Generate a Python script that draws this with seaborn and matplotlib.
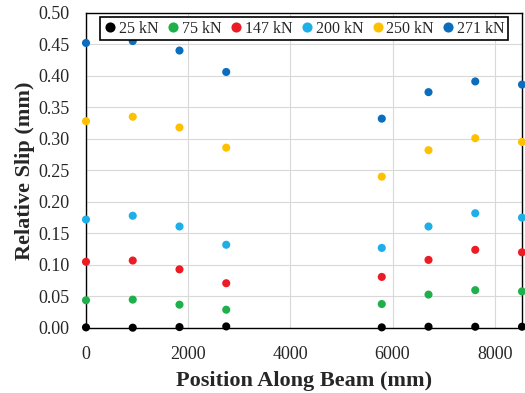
import matplotlib
matplotlib.use("Agg")
import matplotlib.pyplot as plt
from matplotlib.ticker import MultipleLocator, FormatStrFormatter
import seaborn as sns
import pandas as pd

positions = [0, 915, 1830, 2745, 5790, 6705, 7620, 8535]
loads = ["25 kN", "75 kN", "147 kN", "200 kN", "250 kN", "271 kN"]
slip_25 = [0.001, 0.0005, 0.0015, 0.0025, 0.001, 0.002, 0.002, 0.002]
slip_75 = [0.044, 0.045, 0.037, 0.029, 0.038, 0.053, 0.060, 0.058]
slip_147 = [0.105, 0.107, 0.093, 0.071, 0.081, 0.108, 0.124, 0.120]
slip_200 = [0.172, 0.178, 0.161, 0.132, 0.127, 0.161, 0.182, 0.175]
slip_250 = [0.328, 0.335, 0.318, 0.286, 0.240, 0.282, 0.301, 0.295]
slip_271 = [0.452, 0.455, 0.440, 0.406, 0.332, 0.374, 0.391, 0.386]
colors = ["#000000", "#1fb04c", "#ed1c24", "#1eaee8", "#ffc000", "#0a6dbd"]

series = [slip_25, slip_75, slip_147, slip_200, slip_250, slip_271]
rows = []
for lab, vals in zip(loads, series):
    for x, y in zip(positions, vals):
        rows.append({"Position": x, "Slip": y, "Load": lab})
df = pd.DataFrame(rows)

sns.set_style("white")
plt.rcParams["font.family"] = ["Liberation Serif", "DejaVu Serif"]

fig = plt.figure(figsize=(5.25, 3.93), dpi=100)
ax = fig.add_axes([86 / 525, (393 - 328) / 393, 436 / 525, 315.3 / 393])

sns.scatterplot(data=df, x="Position", y="Slip", hue="Load", hue_order=loads,
                palette=colors, s=34, edgecolor="none", linewidth=0,
                ax=ax, clip_on=False, zorder=3, legend=True)

ax.set_xlim(0, 8535)
ax.set_ylim(0, 0.5)
ax.xaxis.set_major_locator(MultipleLocator(2000))
ax.xaxis.set_minor_locator(MultipleLocator(400))
ax.yaxis.set_major_locator(MultipleLocator(0.05))
ax.yaxis.set_minor_locator(MultipleLocator(0.01))
ax.yaxis.set_major_formatter(FormatStrFormatter("%.2f"))

ax.grid(True, which="major", color="#d9d9d9", linewidth=0.8, zorder=0)
ax.set_axisbelow(True)

for side in ["left", "bottom", "right", "top"]:
    ax.spines[side].set_color("black")
    ax.spines[side].set_linewidth(1.0)

ax.tick_params(axis="both", which="major", direction="inout", length=6,
               width=0.8, color="black", labelsize=13)
ax.tick_params(axis="y", which="major", pad=9)
ax.tick_params(axis="x", which="major", pad=10)
ax.tick_params(axis="both", which="minor", direction="in", length=3,
               width=0.6, color="#555555")
ax.tick_params(axis="y", which="both", right=False)
ax.tick_params(axis="x", which="both", top=False)

ax.set_xlabel("Position Along Beam (mm)", fontsize=16, fontweight="bold", labelpad=6)
ax.set_ylabel("Relative Slip (mm)", fontsize=16, fontweight="bold", labelpad=2)

leg = ax.legend(loc="upper center", bbox_to_anchor=(0.5, 0.985), ncol=6,
                frameon=True, fancybox=False, fontsize=11.5,
                handletextpad=0.1, columnspacing=0.45, borderpad=0.2,
                handlelength=0.9, markerscale=1.25, borderaxespad=0.0)
leg.get_frame().set_edgecolor("black")
leg.get_frame().set_linewidth(1.2)
leg.get_frame().set_alpha(1)

fig.savefig("out.png", dpi=100)
